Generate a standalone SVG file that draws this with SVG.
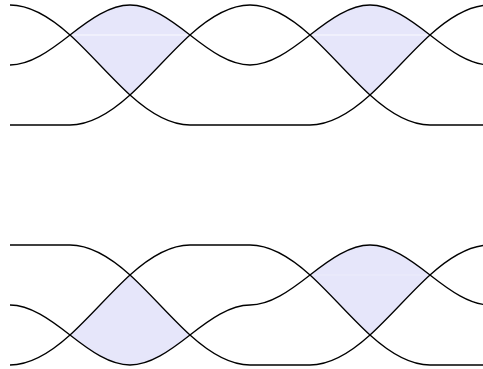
<svg xmlns="http://www.w3.org/2000/svg" width="483" height="369" viewBox="0 0 483 369">
<style>
.strand{fill:none;stroke:#000;stroke-width:1.3;stroke-linecap:butt;stroke-linejoin:round}
.region{fill:#e6e6fa;stroke:none}
.seam{stroke:#fff;stroke-width:0.8;fill:none}
</style>
<rect width="483" height="369" fill="#fff"/>
<g id="top-braid">
<g id="top-regions">
<path class="region" d="M70,35 C90,19.29 110,5 130,5 C150,5 170,19.29 190,35 C170,53.14 150,76.86 130,95 C110,76.86 90,53.14 70,35 Z"/>
<path class="region" d="M310,35 C330,19.29 350,5 370,5 C390,5 410,19.29 430,35 C410,53.14 390,76.86 370,95 C350,76.86 330,53.14 310,35 Z"/>
<line class="seam" x1="71" y1="35" x2="189" y2="35"/>
<line class="seam" x1="311" y1="35" x2="429" y2="35"/>
</g>
<g id="top-strands">
<path class="strand" d="M10,5 C30,5 50,16.86 70,35 C90,53.14 110,76.86 130,95 C150,113.14 170,125 190,125 L310,125 C330,125 350,113.14 370,95 C390,76.86 410,53.14 430,35 C450,16.86 470,5 490,5"/>
<path class="strand" d="M10,65 C30,65 50,50.71 70,35 C90,19.29 110,5 130,5 C150,5 170,19.29 190,35 C210,50.71 230,65 250,65 C270,65 290,50.71 310,35 C330,19.29 350,5 370,5 C390,5 410,19.29 430,35 C450,50.71 470,65 490,65"/>
<path class="strand" d="M10,125 L70,125 C90,125 110,113.14 130,95 C150,76.86 170,53.14 190,35 C210,16.86 230,5 250,5 C270,5 290,16.86 310,35 C330,53.14 350,76.86 370,95 C390,113.14 410,125 430,125 L483,125"/>
</g>
</g>
<g id="bottom-braid">
<g id="bottom-regions">
<path class="region" d="M70,335 C90,350.71 110,365 130,365 C150,365 170,350.71 190,335 C170,316.86 150,293.14 130,275 C110,293.14 90,316.86 70,335 Z"/>
<path class="region" d="M310,275 C330,259.29 350,245 370,245 C390,245 410,259.29 430,275 C410,293.14 390,316.86 370,335 C350,316.86 330,293.14 310,275 Z"/>
<line class="seam" x1="311" y1="275" x2="429" y2="275" stroke-opacity="0.3"/>
</g>
<g id="bottom-strands">
<path class="strand" d="M10,245 L70,245 C90,245 110,256.86 130,275 C150,293.14 170,316.86 190,335 C210,353.14 230,365 250,365 L310,365 C330,365 350,353.14 370,335 C390,316.86 410,293.14 430,275 C450,256.86 470,245 490,245"/>
<path class="strand" d="M10,305 C30,305 50,319.29 70,335 C90,350.71 110,365 130,365 C150,365 170,350.71 190,335 C210,319.29 230,305 250,305 C270,305 290,290.71 310,275 C330,259.29 350,245 370,245 C390,245 410,259.29 430,275 C450,290.71 470,305 490,305"/>
<path class="strand" d="M10,365 C30,365 50,353.14 70,335 C90,316.86 110,293.14 130,275 C150,256.86 170,245 190,245 L250,245 C270,245 290,256.86 310,275 C330,293.14 350,316.86 370,335 C390,353.14 410,365 430,365 L483,365"/>
</g>
</g>
</svg>
